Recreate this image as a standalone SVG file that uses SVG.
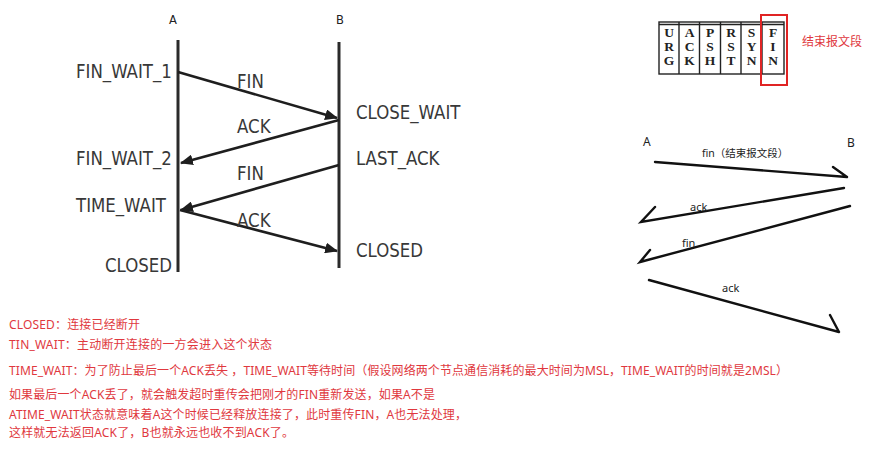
<svg xmlns="http://www.w3.org/2000/svg" width="874" height="449" viewBox="0 0 874 449">
<style>
.st{font-family:"DejaVu Sans",sans-serif;font-size:16.6px;fill:#383838}
.ab{font-family:"DejaVu Sans",sans-serif;font-size:11.5px;fill:#222}
.life{stroke:#2a2a2a;stroke-width:3}
.msg{stroke:#1e1e1e;stroke-width:2.6;fill:none}
.tb{font-family:"Liberation Serif",serif;font-size:13.5px;font-weight:bold;fill:#222;text-anchor:middle}
.grid{stroke:#222;stroke-width:1.4;fill:none}
.sk{stroke:#111;stroke-width:2.4;fill:none;stroke-linecap:round}
.skt{font-family:"Noto Sans","Noto Sans CJK SC",sans-serif;font-size:11px;fill:#222}
.note{font-family:"Noto Sans","Noto Sans CJK SC",sans-serif;font-size:12px;fill:#e0383e}
</style>
<defs>
<marker id="ah" viewBox="0 0 12 10" markerWidth="13" markerHeight="11" refX="11" refY="5" orient="auto" markerUnits="userSpaceOnUse">
<path d="M0,0 L12,5 L0,10 z" fill="#1e1e1e"/>
</marker>
</defs>

<g id="seq">
<g id="A"><text class="ab" x="173" y="24" text-anchor="middle">A</text><line class="life" x1="178" y1="40" x2="178" y2="272"/></g>
<g id="B"><text class="ab" x="340" y="24" text-anchor="middle">B</text><line class="life" x1="339" y1="42" x2="339" y2="268"/></g>
<g id="states">
<text class="st" transform="translate(76,78) scale(1,1.22)">FIN_WAIT_1</text>
<text class="st" transform="translate(356,119) scale(1,1.22)">CLOSE_WAIT</text>
<text class="st" transform="translate(76,165) scale(1,1.22)">FIN_WAIT_2</text>
<text class="st" transform="translate(356,165) scale(1,1.22)">LAST_ACK</text>
<text class="st" transform="translate(76,212) scale(1,1.22)">TIME_WAIT</text>
<text class="st" transform="translate(356,257) scale(1,1.22)">CLOSED</text>
<text class="st" transform="translate(105,272) scale(1,1.22)">CLOSED</text>
</g>
</g>

<g id="connectors">
<line class="msg" x1="178" y1="72" x2="337" y2="118" marker-end="url(#ah)"/>
<line class="msg" x1="339" y1="120" x2="181" y2="163" marker-end="url(#ah)"/>
<line class="msg" x1="339" y1="165" x2="181" y2="210" marker-end="url(#ah)"/>
<line class="msg" x1="180" y1="210" x2="337" y2="251" marker-end="url(#ah)"/>
<text class="st" transform="translate(237,88) scale(1,1.22)">FIN</text>
<text class="st" transform="translate(237,133) scale(1,1.22)">ACK</text>
<text class="st" transform="translate(237,180) scale(1,1.22)">FIN</text>
<text class="st" transform="translate(237,227) scale(1,1.22)">ACK</text>

<path class="sk" d="M655,162 L847,177 M833,167 L847,177"/>
<path class="sk" d="M844,188 L641,222 L655,207"/>
<path class="sk" d="M850,206 L640,262 L650,250"/>
<path class="sk" d="M649,280 L839,332 M830,315 L839,332"/>
<text class="skt" x="702" y="157" style="font-size:10.5px">fin（结束报文段）</text>
<text class="skt" x="690" y="211">ack</text>
<text class="skt" x="682" y="247">fin</text>
<text class="skt" x="722" y="292">ack</text>
</g>

<g id="sketchAB">
<text class="skt" x="643" y="146" style="font-size:12px">A</text>
<text class="skt" x="847" y="147" style="font-size:12px">B</text>
</g>

<g id="flags">
<rect class="grid" x="659" y="22" width="125" height="52"/>
<line class="grid" x1="659" y1="24.5" x2="784" y2="24.5"/>
<line class="grid" x1="679" y1="22" x2="679" y2="74"/>
<line class="grid" x1="699.5" y1="22" x2="699.5" y2="74"/>
<line class="grid" x1="720.5" y1="22" x2="720.5" y2="74"/>
<line class="grid" x1="741" y1="22" x2="741" y2="74"/>
<line class="grid" x1="762" y1="22" x2="762" y2="74"/>
<text class="tb" x="669" y="37">U</text><text class="tb" x="669" y="51">R</text><text class="tb" x="669" y="65">G</text>
<text class="tb" x="689.5" y="37">A</text><text class="tb" x="689.5" y="51">C</text><text class="tb" x="689.5" y="65">K</text>
<text class="tb" x="710" y="37">P</text><text class="tb" x="710" y="51">S</text><text class="tb" x="710" y="65">H</text>
<text class="tb" x="731" y="37">R</text><text class="tb" x="731" y="51">S</text><text class="tb" x="731" y="65">T</text>
<text class="tb" x="751.5" y="37">S</text><text class="tb" x="751.5" y="51">Y</text><text class="tb" x="751.5" y="65">N</text>
<text class="tb" x="773" y="37">F</text><text class="tb" x="773" y="51">I</text><text class="tb" x="773" y="65">N</text>
</g>
<g id="finHighlight">
<rect x="761" y="15" width="26" height="70" fill="none" stroke="#e02424" stroke-width="2"/>
<text class="note" x="802" y="46">结束报文段</text>
</g>

<g id="notes">
<text class="note" x="9" y="328.5" textLength="131" lengthAdjust="spacing">CLOSED：连接已经断开</text>
<text class="note" x="9" y="349" textLength="263" lengthAdjust="spacing">TIN_WAIT：主动断开连接的一方会进入这个状态</text>
<text class="note" x="9" y="374.5" textLength="779" lengthAdjust="spacing">TIME_WAIT：为了防止最后一个ACK丢失 ，TIME_WAIT等待时间（假设网络两个节点通信消耗的最大时间为MSL，TIME_WAIT的时间就是2MSL）</text>
<text class="note" x="9" y="398.5" textLength="426" lengthAdjust="spacing">如果最后一个ACK丢了，就会触发超时重传会把刚才的FIN重新发送，如果A不是</text>
<text class="note" x="9" y="418.5" textLength="458" lengthAdjust="spacing">ATIME_WAIT状态就意味着A这个时候已经释放连接了，此时重传FIN，A也无法处理，</text>
<text class="note" x="9" y="437" textLength="285" lengthAdjust="spacing">这样就无法返回ACK了，B也就永远也收不到ACK了。</text>
</g>
</svg>
